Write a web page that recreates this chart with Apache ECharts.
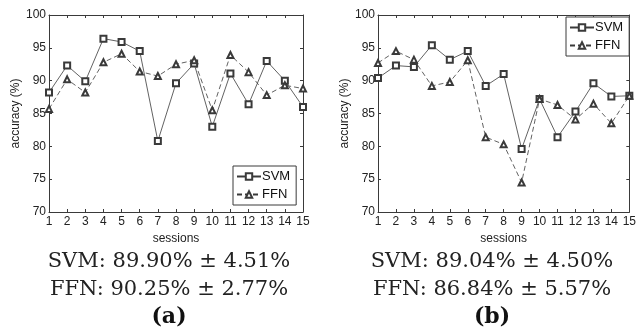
<!DOCTYPE html>
<html>
<head>
<meta charset="utf-8">
<script src="https://cdn.jsdelivr.net/npm/echarts@6/dist/echarts.min.js"></script>
<style>
  html, body { margin: 0; padding: 0; background: #fff; }
  #chart { width: 639px; height: 333px; }
</style>
</head>
<body>
<div id="chart"></div>
<script>
  const sessions = ["1", "2", "3", "4", "5", "6", "7", "8", "9", "10", "11", "12", "13", "14", "15"];

  // panel (a)
  const svmA = [88.2, 92.3, 89.9, 96.4, 95.9, 94.5, 80.8, 89.6, 92.6, 83.0, 91.1, 86.4, 93.0, 90.0, 86.0];
  const ffnA = [85.7, 90.2, 88.2, 92.8, 94.1, 91.4, 90.7, 92.5, 93.1, 85.5, 93.9, 91.3, 87.8, 89.3, 88.8];
  // panel (b)
  const svmB = [90.4, 92.3, 92.1, 95.4, 93.2, 94.5, 89.2, 91.0, 79.6, 87.2, 81.4, 85.3, 89.6, 87.6, 87.7];
  const ffnB = [92.7, 94.5, 93.2, 89.2, 89.8, 93.1, 81.4, 80.3, 74.5, 87.2, 86.3, 84.1, 86.5, 83.5, 87.7];

  const captionA = ["SVM: 89.90% \u00b1 4.51%", "FFN: 90.25% \u00b1 2.77%", "(a)"];
  const captionB = ["SVM: 89.04% \u00b1 4.50%", "FFN: 86.84% \u00b1 5.57%", "(b)"];

  const ink = "#3a3a3a";
  const tickFont = { fontFamily: "Liberation Sans", fontSize: 12, color: "#222" };

  const chart = echarts.init(document.getElementById("chart"), null, { renderer: "canvas" });

  const grids = [
    { left: 49, width: 254, top: 15, height: 197 },
    { left: 378, width: 254, top: 15, height: 197 }
  ];

  function xAxes(gi) {
    return [{
      gridIndex: gi, type: "category", data: sessions, boundaryGap: false,
      axisLine: { lineStyle: { color: ink, width: 1 } },
      axisTick: { inside: true, length: 3, alignWithLabel: true, lineStyle: { color: ink } },
      axisLabel: Object.assign({ margin: 4, interval: 0 }, tickFont),
      name: "sessions", nameLocation: "middle", nameGap: 16,
      nameTextStyle: { fontFamily: "Liberation Sans", fontSize: 12, color: "#222" },
      splitLine: { show: false }
    }, {
      gridIndex: gi, type: "category", data: sessions, boundaryGap: false, position: "top",
      axisLine: { lineStyle: { color: ink, width: 1 } },
      axisTick: { inside: true, length: 3, lineStyle: { color: ink } },
      axisLabel: { show: false }, splitLine: { show: false }
    }];
  }

  function yAxes(gi) {
    return [{
      gridIndex: gi, type: "value", min: 70, max: 100, interval: 5,
      axisLine: { show: true, lineStyle: { color: ink, width: 1 } },
      axisTick: { show: true, inside: true, length: 3, lineStyle: { color: ink } },
      axisLabel: Object.assign({ margin: 3 }, tickFont),
      splitLine: { show: false },
      name: "accuracy (%)", nameLocation: "middle", nameGap: 27, nameRotate: 90,
      nameTextStyle: { fontFamily: "Liberation Sans", fontSize: 12, color: "#222" }
    }, {
      gridIndex: gi, type: "value", min: 70, max: 100, interval: 5, position: "right",
      axisLine: { show: true, lineStyle: { color: ink, width: 1 } },
      axisTick: { show: true, inside: true, length: 3, lineStyle: { color: ink } },
      axisLabel: { show: false }, splitLine: { show: false }
    }];
  }

  function line(name, data, gi, dashed) {
    return {
      name: name, type: "line", data: data,
      xAxisIndex: gi * 2, yAxisIndex: gi * 2,
      symbol: dashed ? "emptyTriangle" : "emptyRect",
      symbolSize: 6,
      showSymbol: true, showAllSymbol: true,
      color: ink,
      itemStyle: { color: ink, borderWidth: 0.7 },
      lineStyle: { color: ink, width: 0.8, type: dashed ? [5, 3] : "solid" },
      animation: false
    };
  }

  const legendBase = {
    data: ["SVM", "FFN"], orient: "vertical", itemGap: 5, itemWidth: 24, itemHeight: 8,
    backgroundColor: "#fff", borderColor: ink, borderWidth: 1, padding: [4, 6, 4, 3],
    textStyle: { fontFamily: "Liberation Sans", fontSize: 13, color: "#111", padding: [0, 0, 0, -4] },
    selectedMode: false
  };

  function caption(lines, cx) {
    return [
      { type: "text", x: cx, y: 262, style: { text: lines[0], font: "21px 'DejaVu Serif'", fill: "#222", align: "center", verticalAlign: "middle" } },
      { type: "text", x: cx, y: 290, style: { text: lines[1], font: "21px 'DejaVu Serif'", fill: "#222", align: "center", verticalAlign: "middle" } },
      { type: "text", x: cx, y: 317, style: { text: lines[2], font: "bold 22px 'DejaVu Serif'", fill: "#111", align: "center", verticalAlign: "middle" } }
    ];
  }

  chart.setOption({
    animation: false,
    backgroundColor: "#fff",
    grid: grids,
    xAxis: xAxes(0).concat(xAxes(1)),
    yAxis: yAxes(0).concat(yAxes(1)),
    legend: [
      Object.assign({ left: 233, top: 166 }, legendBase),
      Object.assign({ left: 566, top: 17 }, legendBase)
    ],
    series: [
      line("SVM", svmA, 0, false),
      line("FFN", ffnA, 0, true),
      line("SVM", svmB, 1, false),
      line("FFN", ffnB, 1, true)
    ],
    graphic: caption(captionA, 169).concat(caption(captionB, 492))
  });
</script>
</body>
</html>
